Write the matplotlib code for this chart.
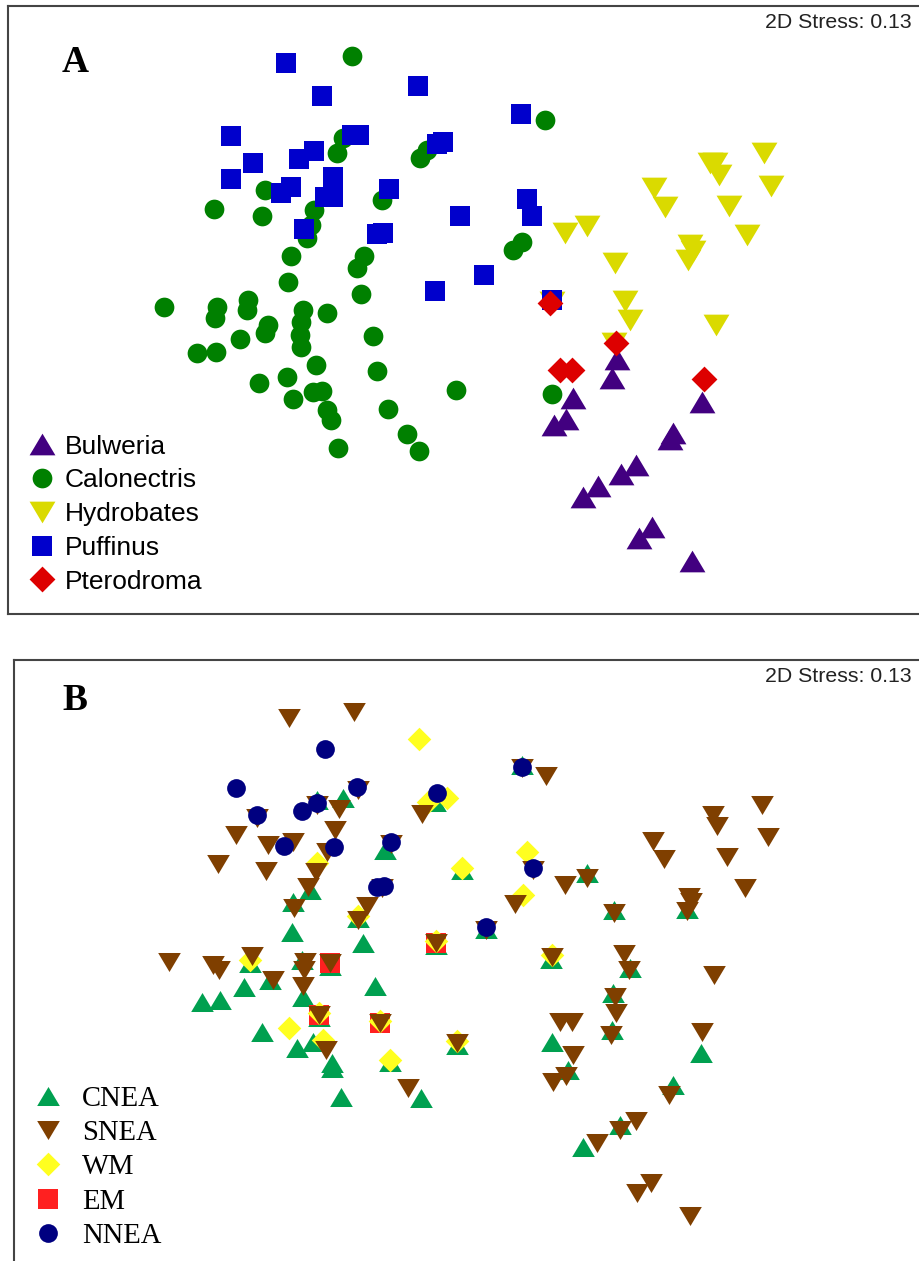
import matplotlib
matplotlib.use('Agg')
import numpy as np
import matplotlib.pyplot as plt

# NMDS scores (ordination units, y grows downward) read per group
# --- panel A: genus ---
bulweria = [(617, 359), (612, 378), (573, 398), (566, 419), (554, 425), (702, 402),
            (673, 433), (670, 439), (636, 465), (621, 474), (598, 486), (583, 497),
            (652, 527), (639, 538), (692, 561)]
calonectris = [(352, 56), (545, 120), (343, 138), (337, 153), (420, 158), (427, 150),
               (265, 190), (214, 209), (262, 216), (314, 210), (311, 225), (382, 200),
               (307, 238), (291, 256), (364, 256), (357, 268), (288, 282), (361, 294),
               (513, 250), (522, 242), (164, 307), (217, 307), (215, 318), (248, 300),
               (247, 310), (327, 313), (303, 310), (301, 322), (300, 335), (301, 347),
               (268, 325), (265, 333), (240, 339), (197, 353), (216, 352), (373, 336),
               (316, 365), (377, 371), (259, 383), (287, 377), (456, 390), (293, 399),
               (313, 392), (322, 391), (327, 410), (331, 420), (388, 409), (407, 434),
               (419, 451), (338, 448), (552, 394)]
hydrobates = [(565, 233), (587, 226), (615, 263), (625, 301), (630, 320), (654, 188),
              (665, 207), (710, 163), (715, 163), (719, 175), (764, 153), (771, 186),
              (729, 206), (747, 235), (690, 245), (693, 251), (688, 260), (716, 325),
              (614, 343), (552, 302)]
puffinus = [(286, 63), (322, 96), (418, 86), (521, 114), (231, 136), (352, 135),
            (359, 135), (437, 144), (443, 142), (314, 151), (299, 159), (253, 163),
            (231, 179), (291, 187), (281, 193), (333, 177), (333, 197), (325, 197),
            (389, 189), (304, 229), (377, 234), (383, 233), (460, 216), (527, 199),
            (532, 216), (484, 275), (435, 291), (552, 300)]
pterodroma = [(550, 303), (616, 343), (560, 370), (572, 370), (704, 379)]

# --- panel B: region ---
cnea = [(343, 798), (317, 800), (385, 850), (435, 802), (462, 870), (522, 765),
        (486, 929), (587, 873), (614, 910), (436, 945), (551, 959), (630, 968),
        (687, 909), (293, 902), (310, 890), (292, 932), (358, 918), (363, 943),
        (250, 963), (270, 980), (302, 960), (303, 997), (330, 966), (375, 986),
        (244, 987), (202, 1002), (220, 1000), (319, 1017), (262, 1032), (297, 1048),
        (313, 1042), (332, 1063), (332, 1068), (390, 1062), (341, 1097), (421, 1098),
        (457, 1045), (613, 993), (612, 1030), (552, 1042), (568, 1070), (701, 1053),
        (673, 1085), (620, 1125), (583, 1147)]
snea = [(289, 718), (354, 712), (358, 790), (339, 809), (317, 805), (257, 818),
        (236, 835), (268, 845), (293, 842), (335, 830), (327, 852), (218, 864),
        (266, 871), (316, 872), (308, 887), (294, 908), (367, 906), (391, 844),
        (382, 888), (422, 814), (522, 768), (546, 776), (533, 870), (486, 930),
        (565, 885), (587, 878), (515, 904), (614, 913), (436, 943), (552, 957),
        (624, 954), (629, 970), (714, 975), (653, 841), (664, 859), (713, 815),
        (717, 826), (762, 805), (768, 837), (727, 857), (745, 888), (689, 897),
        (691, 902), (687, 911), (169, 962), (213, 965), (219, 970), (252, 956),
        (273, 980), (305, 962), (304, 970), (303, 986), (330, 963), (358, 920),
        (319, 1015), (380, 1023), (457, 1043), (326, 1050), (408, 1088), (615, 997),
        (616, 1013), (611, 1035), (560, 1022), (572, 1022), (573, 1055), (566, 1076),
        (553, 1082), (702, 1032), (669, 1095), (636, 1121), (620, 1130), (597, 1143),
        (651, 1183), (637, 1193), (690, 1216)]
wm = [(419, 739), (447, 798), (428, 802), (462, 868), (527, 852), (523, 895),
      (317, 863), (250, 960), (289, 1028), (323, 1040), (319, 1013), (380, 1021),
      (390, 1060), (436, 941), (457, 1041), (552, 955), (358, 916)]
em = [(330, 963), (436, 943), (319, 1015), (380, 1023)]
nnea = [(325, 749), (236, 788), (357, 787), (317, 803), (302, 811), (257, 815),
        (284, 846), (334, 847), (391, 842), (377, 887), (384, 886), (437, 793),
        (522, 767), (533, 868), (486, 927)]

stress = 0.13

W, H = 919, 1261
fig = plt.figure(figsize=(W / 100, H / 100), dpi=100)

tri_up = [(-1, -0.84), (1, -0.84), (0, 0.84)]
tri_down = [(-1, 0.84), (1, 0.84), (0, -0.84)]
diamond = [(0, 1), (1, 0), (0, -1), (-1, 0)]


def make_axes(left, top, right, bottom):
    ax = fig.add_axes([left / W, 1 - bottom / H, (right - left) / W, (bottom - top) / H])
    ax.set_xlim(left, right)
    ax.set_ylim(bottom, top)
    ax.set_xticks([])
    ax.set_yticks([])
    for sp in ax.spines.values():
        sp.set_color('#444444')
        sp.set_linewidth(1.5)
    return ax


def draw(ax, pts, marker, size, color, label):
    p = np.array(pts)
    line, = ax.plot(p[:, 0], p[:, 1], ls='none', marker=marker, ms=size,
                    color=color, mew=0, label=label)
    return line


# panel A
axA = make_axes(8, 6, 926, 614)
hA = {}
hA['Calonectris'] = draw(axA, calonectris, 'o', 14.2, '#008000', 'Calonectris')
hA['Hydrobates'] = draw(axA, hydrobates, tri_down, 18.6, '#DADA00', 'Hydrobates')
hA['Bulweria'] = draw(axA, bulweria, tri_up, 18.6, '#420080', 'Bulweria')
hA['Puffinus'] = draw(axA, puffinus, 's', 14.8, '#0000CC', 'Puffinus')
hA['Pterodroma'] = draw(axA, pterodroma, diamond, 18.6, '#DD0000', 'Pterodroma')
orderA = ['Bulweria', 'Calonectris', 'Hydrobates', 'Puffinus', 'Pterodroma']
axA.legend([hA[k] for k in orderA], orderA, loc='upper left',
           bbox_to_anchor=(0.0229, 0.295), frameon=False, borderpad=0, borderaxespad=0,
           handlelength=1.0, handletextpad=0.35, labelspacing=0.37,
           prop={'family': 'Liberation Sans', 'size': 19})

# panel B
axB = make_axes(14, 660, 932, 1268)
hB = {}
hB['CNEA'] = draw(axB, cnea, tri_up, 16.3, '#00A050', 'CNEA')
hB['EM'] = draw(axB, em, 's', 14, '#FF2020', 'EM')
hB['WM'] = draw(axB, wm, diamond, 17, '#FFFF20', 'WM')
hB['SNEA'] = draw(axB, snea, tri_down, 16.3, '#7F3F00', 'SNEA')
hB['NNEA'] = draw(axB, nnea, 'o', 13.5, '#000080', 'NNEA')
orderB = ['CNEA', 'SNEA', 'WM', 'EM', 'NNEA']
axB.legend([hB[k] for k in orderB], orderB, loc='upper left',
           bbox_to_anchor=(0.0214, 0.300), frameon=False, borderpad=0, borderaxespad=0,
           handlelength=1.0, handletextpad=0.68, labelspacing=0.29,
           prop={'family': 'Liberation Serif', 'size': 20.6})

# panel letters and stress values
for letter, ly, sy in [('A', 62, 22), ('B', 700, 676)]:
    fig.text(62 / W, 1 - ly / H, letter, ha='left', va='center',
             family='Liberation Serif', weight='bold', size=27)
    fig.text(912 / W, 1 - sy / H, f'2D Stress: {stress:.2f}', ha='right', va='center',
             family='Liberation Sans', size=15.3, color='#222222')

fig.savefig('out.png', dpi=100, facecolor='white')
